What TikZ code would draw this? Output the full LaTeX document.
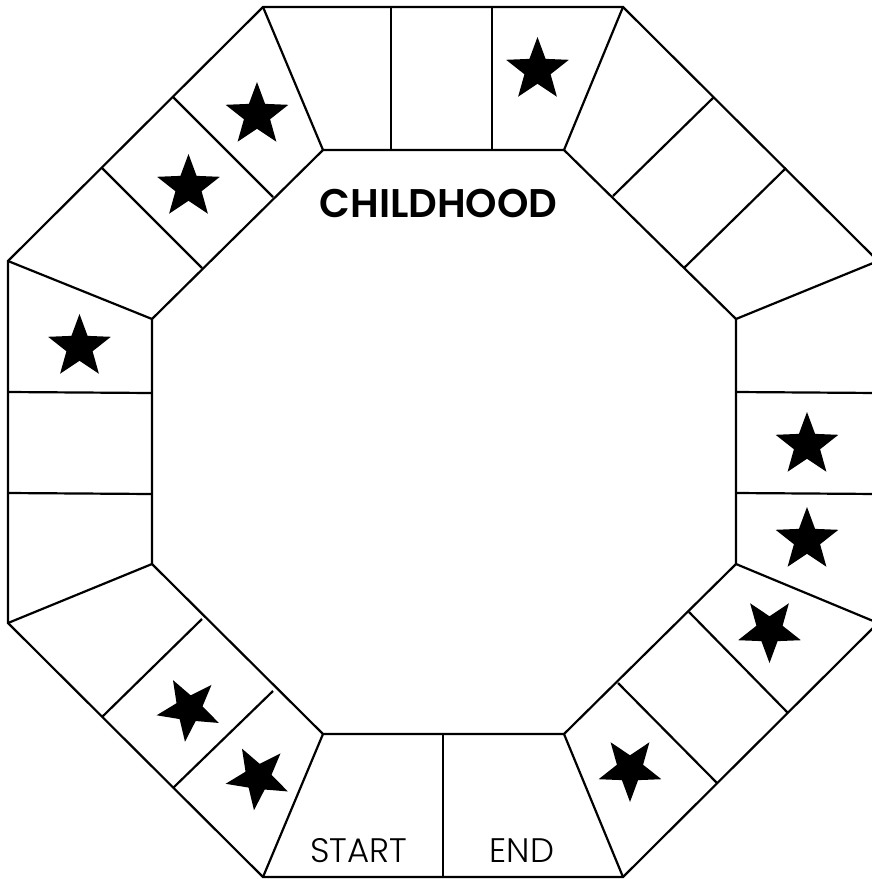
\documentclass[tikz,border=0pt]{standalone}
\usepackage{fontspec}
\usetikzlibrary{shapes.geometric}
\newfontfamily\titlefont{Poppins SemiBold}
\newfontfamily\labelfont{Poppins Light}
\begin{document}
\begin{tikzpicture}[x=1pt,y=-1pt]
\tikzset{
  board/.style={draw=black, line width=2.2pt, line join=miter},
  starbox/.style={star, star points=5, star point ratio=2.4, fill=black, draw=none,
                  minimum size=66pt, inner sep=0pt, outer sep=0pt},
  titletext/.style={font=\titlefont\fontsize{40}{40}\selectfont, inner sep=0pt},
  celltext/.style={font=\labelfont\fontsize{34}{34}\selectfont, inner sep=0pt},
}
\useasboundingbox (0,0) rectangle (872,879);
\clip (0,0) rectangle (872,879);
% outer octagon
\coordinate (O1) at (263,7);   \coordinate (O2) at (623,7);
\coordinate (O3) at (878,261); \coordinate (O4) at (878,623);
\coordinate (O5) at (623,877); \coordinate (O6) at (263,877);
\coordinate (O7) at (8,623);   \coordinate (O8) at (8,261);
% inner octagon
\coordinate (I1) at (323,150); \coordinate (I2) at (564,150);
\coordinate (I3) at (736,319); \coordinate (I4) at (736,564);
\coordinate (I5) at (564,734); \coordinate (I6) at (323,734);
\coordinate (I7) at (152,564); \coordinate (I8) at (152,319);
\draw[board] (O1)--(O2)--(O3)--(O4)--(O5)--(O6)--(O7)--(O8)--cycle;
\draw[board] (I1)--(I2)--(I3)--(I4)--(I5)--(I6)--(I7)--(I8)--cycle;
% corner spokes
\foreach \k in {1,...,8} \draw[board] (O\k)--(I\k);
% cell dividers
% top
\coordinate (t1o) at (391,7);   \coordinate (t1i) at (391,150);
\coordinate (t2o) at (492,7);   \coordinate (t2i) at (492,150);
% top-right
\coordinate (tr1o) at (714,97);  \coordinate (tr1i) at (613,196);
\coordinate (tr2o) at (786,168); \coordinate (tr2i) at (684,268);
% right
\coordinate (r1o) at (878,393);  \coordinate (r1i) at (736,392);
\coordinate (r2o) at (878,494);  \coordinate (r2i) at (736,493);
% bottom-right
\coordinate (br1o) at (788,713); \coordinate (br1i) at (689,612);
\coordinate (br2o) at (717,783); \coordinate (br2i) at (618,683);
% bottom
\coordinate (b1o) at (443,877);  \coordinate (b1i) at (443,734);
% bottom-left
\coordinate (bl1o) at (102,717); \coordinate (bl1i) at (202,619);
\coordinate (bl2o) at (173,788); \coordinate (bl2i) at (273,691);
% left
\coordinate (l1o) at (8,392);    \coordinate (l1i) at (152,393);
\coordinate (l2o) at (8,493);    \coordinate (l2i) at (152,494);
% top-left
\coordinate (tl1o) at (173,97);  \coordinate (tl1i) at (273,197);
\coordinate (tl2o) at (102,168); \coordinate (tl2i) at (202,268);
\foreach \d in {t1,t2,tr1,tr2,r1,r2,br1,br2,b1,bl1,bl2,l1,l2,tl1,tl2}
  \draw[board] (\d o)--(\d i);
% stars
\node[starbox] (s1) at (537.5,70) {};
\node[starbox] (s2) at (257,115) {};
\node[starbox] (s3) at (188.5,187) {};
\node[starbox] (s4) at (79.5,347) {};
\node[starbox] (s5) at (807,445) {};
\node[starbox] (s6) at (807,540) {};
\node[starbox, rotate=36] (s7) at (769.5,630) {};
\node[starbox, rotate=36] (s8) at (630,769) {};
\node[starbox, rotate=29] (s9) at (189,709) {};
\node[starbox, rotate=29] (s10) at (258,777.5) {};
% texts
\node[titletext, anchor=base] (title) at (438.5,217) {CHILDHOOD};
\node[celltext, anchor=base] (start) at (358.5,862) {START};
\node[celltext, anchor=base] (end) at (522,862) {END};
\end{tikzpicture}
\end{document}
